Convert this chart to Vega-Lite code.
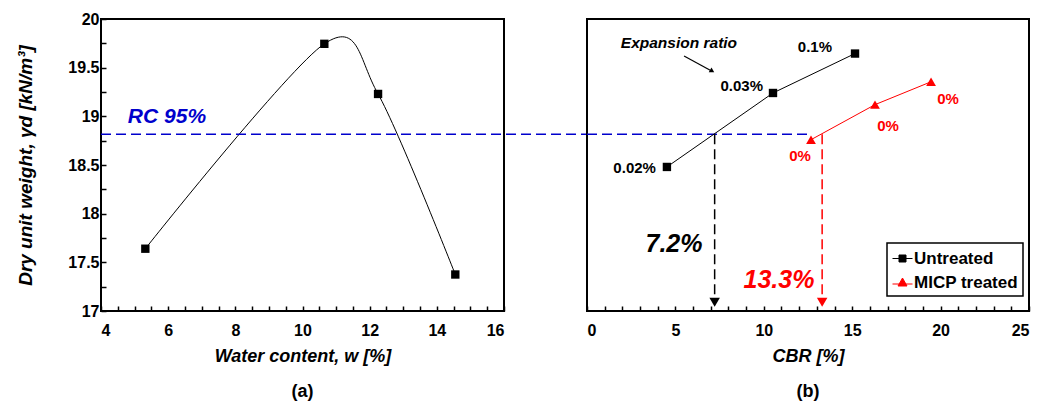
{
  "$schema": "https://vega.github.io/schema/vega-lite/v6.json",
  "padding": {"left": 15, "top": 10, "right": 5, "bottom": 5},
  "bounds": "flush",
  "spacing": 83,
  "datasets": {
    "compaction": [
      {"w": 5.32, "gd": 17.64},
      {"w": 10.65, "gd": 19.745},
      {"w": 12.25, "gd": 19.23},
      {"w": 14.55, "gd": 17.375}
    ],
    "cbr": [
      {"series": "Untreated", "cbr": 4.52, "gd": 18.48, "label": "0.02%"},
      {"series": "Untreated", "cbr": 10.52, "gd": 19.24, "label": "0.03%"},
      {"series": "Untreated", "cbr": 15.16, "gd": 19.645, "label": "0.1%"},
      {"series": "MICP treated", "cbr": 12.67, "gd": 18.76, "label": "0%"},
      {"series": "MICP treated", "cbr": 16.29, "gd": 19.12, "label": "0%"},
      {"series": "MICP treated", "cbr": 19.46, "gd": 19.355, "label": "0%"}
    ]
  },
  "config": {
    "font": "Liberation Sans",
    "view": {"stroke": "black", "strokeWidth": 2},
    "axis": {
      "domain": false,
      "grid": false,
      "tickColor": "black",
      "tickWidth": 1.5,
      "tickSize": -5,
      "labelFontSize": 16,
      "labelFontWeight": "bold",
      "labelColor": "black",
      "titleFontSize": 18,
      "titleFontWeight": "bold",
      "titleFontStyle": "italic",
      "titleColor": "black"
    },
    "title": {"fontSize": 18, "fontWeight": "bold", "color": "black", "font": "Liberation Sans"}
  },
  "hconcat": [
    {
      "width": 403,
      "height": 292,
      "title": {"text": "(a)", "orient": "bottom", "offset": 18},
      "encoding": {
        "x": {
          "field": "w", "type": "quantitative",
          "scale": {"domain": [4, 16], "nice": false, "zero": false},
          "axis": {
            "title": "Water content, w [%]",
            "values": [4,4.5,5,5.5,6,6.5,7,7.5,8,8.5,9,9.5,10,10.5,11,11.5,12,12.5,13,13.5,14,14.5,15,15.5,16],
            "format": ".1~f",
            "labelExpr": "datum.value % 2 === 0 ? datum.label : ''",
            "labelPadding": 16,
            "titlePadding": 9
          }
        },
        "y": {
          "field": "gd", "type": "quantitative",
          "scale": {"domain": [17, 20], "nice": false, "zero": false},
          "axis": {
            "title": "Dry unit weight, γd [kN/m³]",
            "titleFontSize": 19,
            "values": [17,17.25,17.5,17.75,18,18.25,18.5,18.75,19,19.25,19.5,19.75,20],
            "format": ".2~f",
            "labelExpr": "datum.value % 0.5 === 0 ? datum.label : ''",
            "labelPadding": 7,
            "titlePadding": 32
          }
        }
      },
      "layer": [
        {
          "data": {"name": "compaction"},
          "mark": {"type": "line", "interpolate": "cardinal", "tension": 0.1, "color": "black", "strokeWidth": 1}
        },
        {
          "data": {"name": "compaction"},
          "mark": {"type": "point", "shape": "square", "filled": true, "color": "black", "size": 70, "opacity": 1}
        },
        {
          "data": {"values": [{"w": 4, "w2": 18.48, "gd": 18.815}]},
          "mark": {"type": "rule", "color": "#0000CC", "strokeWidth": 1.5, "strokeDash": [10, 5]},
          "encoding": {"x2": {"field": "w2"}}
        },
        {
          "data": {"values": [{"w": 4.8, "gd": 18.99, "label": "RC 95%"}]},
          "mark": {"type": "text", "align": "left", "baseline": "middle", "fontSize": 21, "fontWeight": "bold", "fontStyle": "italic", "color": "#0000CC"},
          "encoding": {"text": {"field": "label"}}
        }
      ]
    },
    {
      "width": 442,
      "height": 292,
      "title": {"text": "(b)", "orient": "bottom", "offset": 18},
      "encoding": {
        "x": {
          "field": "cbr", "type": "quantitative",
          "scale": {"domain": [0, 25], "nice": false, "zero": false},
          "axis": {
            "title": "CBR [%]",
            "values": [0,1,2,3,4,5,6,7,8,9,10,11,12,13,14,15,16,17,18,19,20,21,22,23,24,25],
            "labelExpr": "datum.value % 5 === 0 ? datum.label : ''",
            "labelPadding": 16,
            "titlePadding": 9
          }
        },
        "y": {
          "field": "gd", "type": "quantitative",
          "scale": {"domain": [17, 20], "nice": false, "zero": false},
          "axis": null
        }
      },
      "layer": [
        {
          "data": {"values": [{"cbr": 0, "cbr2": 12.6, "gd": 18.815}]},
          "mark": {"type": "rule", "color": "#0000CC", "strokeWidth": 1.5, "strokeDash": [10, 5]},
          "encoding": {"x2": {"field": "cbr2"}}
        },
        {
          "data": {"values": [{"cbr": 7.22, "gd": 18.815, "gd2": 17.1}]},
          "mark": {"type": "rule", "color": "black", "strokeWidth": 1.5, "strokeDash": [10, 5]},
          "encoding": {"y2": {"field": "gd2"}}
        },
        {
          "data": {"values": [{"cbr": 13.3, "gd": 18.815, "gd2": 17.1}]},
          "mark": {"type": "rule", "color": "red", "strokeWidth": 1.5, "strokeDash": [10, 5]},
          "encoding": {"y2": {"field": "gd2"}}
        },
        {
          "data": {"values": [{"cbr": 7.22, "gd": 17.09}]},
          "mark": {"type": "point", "shape": "triangle-down", "filled": true, "color": "black", "size": 110, "opacity": 1}
        },
        {
          "data": {"values": [{"cbr": 13.3, "gd": 17.09}]},
          "mark": {"type": "point", "shape": "triangle-down", "filled": true, "color": "red", "size": 110, "opacity": 1}
        },
        {
          "data": {"name": "cbr"},
          "mark": {"type": "line", "strokeWidth": 1},
          "encoding": {
            "color": {
              "field": "series", "type": "nominal",
              "scale": {"domain": ["Untreated", "MICP treated"], "range": ["black", "red"]},
              "legend": {
                "title": null,
                "orient": "none",
                "legendX": 786,
                "legendY": 224,
                "strokeColor": "black",
                "fillColor": "white",
                "padding": 5,
                "labelFontSize": 17,
                "labelFontWeight": "bold",
                "labelColor": "black",
                "symbolSize": 400,
                "rowPadding": 5,
                "labelOffset": 1,
                "encode": {
                  "legend": {"update": {"strokeWidth": {"value": 1.5}}},
                  "symbols": {
                    "update": {
                      "shape": {"signal": "datum.value === 'Untreated' ? 'M-1,0H1M-0.35,-0.35H0.35V0.35H-0.35Z' : 'M-1,0.15H1M0,-0.45L0.45,0.35H-0.45Z'"},
                      "stroke": {"signal": "datum.value === 'Untreated' ? 'black' : 'red'"},
                      "fill": {"signal": "datum.value === 'Untreated' ? 'black' : 'red'"},
                      "strokeWidth": {"value": 1},
                      "opacity": {"value": 1},
                      "fillOpacity": {"value": 1},
                      "strokeOpacity": {"value": 1}
                    }
                  }
                }
              }
            },
            "detail": {"field": "series"}
          }
        },
        {
          "data": {"name": "cbr"},
          "transform": [{"filter": "datum.series === 'Untreated'"}],
          "mark": {"type": "point", "shape": "square", "filled": true, "color": "black", "size": 70, "opacity": 1}
        },
        {
          "data": {"name": "cbr"},
          "transform": [{"filter": "datum.series === 'MICP treated'"}],
          "mark": {"type": "point", "shape": "triangle-up", "filled": true, "color": "red", "size": 95, "opacity": 1}
        },
        {
          "data": {"name": "cbr"},
          "transform": [{"filter": "datum.label === '0.02%'"}],
          "mark": {"type": "text", "align": "right", "baseline": "middle", "dx": -11, "dy": 1, "fontSize": 15, "fontWeight": "bold", "color": "black"},
          "encoding": {"text": {"field": "label"}}
        },
        {
          "data": {"name": "cbr"},
          "transform": [{"filter": "datum.label === '0.03%'"}],
          "mark": {"type": "text", "align": "right", "baseline": "middle", "dx": -10, "dy": -7, "fontSize": 15, "fontWeight": "bold", "color": "black"},
          "encoding": {"text": {"field": "label"}}
        },
        {
          "data": {"name": "cbr"},
          "transform": [{"filter": "datum.label === '0.1%'"}],
          "mark": {"type": "text", "align": "right", "baseline": "middle", "dx": -23, "dy": -7, "fontSize": 15, "fontWeight": "bold", "color": "black"},
          "encoding": {"text": {"field": "label"}}
        },
        {
          "data": {"name": "cbr"},
          "transform": [{"filter": "datum.series === 'MICP treated' && datum.cbr < 14"}],
          "mark": {"type": "text", "align": "center", "baseline": "middle", "dx": -11, "dy": 16, "fontSize": 15, "fontWeight": "bold", "color": "red"},
          "encoding": {"text": {"field": "label"}}
        },
        {
          "data": {"name": "cbr"},
          "transform": [{"filter": "datum.series === 'MICP treated' && datum.cbr > 14 && datum.cbr < 18"}],
          "mark": {"type": "text", "align": "center", "baseline": "middle", "dx": 13, "dy": 21, "fontSize": 15, "fontWeight": "bold", "color": "red"},
          "encoding": {"text": {"field": "label"}}
        },
        {
          "data": {"name": "cbr"},
          "transform": [{"filter": "datum.series === 'MICP treated' && datum.cbr > 18"}],
          "mark": {"type": "text", "align": "center", "baseline": "middle", "dx": 17, "dy": 17, "fontSize": 15, "fontWeight": "bold", "color": "red"},
          "encoding": {"text": {"field": "label"}}
        },
        {
          "data": {"values": [{"cbr": 4.92, "gd": 17.69, "label": "7.2%"}]},
          "mark": {"type": "text", "align": "center", "baseline": "middle", "fontSize": 25, "fontWeight": "bold", "fontStyle": "italic", "color": "black"},
          "encoding": {"text": {"field": "label"}}
        },
        {
          "data": {"values": [{"cbr": 10.86, "gd": 17.32, "label": "13.3%"}]},
          "mark": {"type": "text", "align": "center", "baseline": "middle", "fontSize": 25, "fontWeight": "bold", "fontStyle": "italic", "color": "red"},
          "encoding": {"text": {"field": "label"}}
        },
        {
          "data": {"values": [{"cbr": 5.2, "gd": 19.75, "label": "Expansion ratio"}]},
          "mark": {"type": "text", "align": "center", "baseline": "middle", "fontSize": 15.5, "fontWeight": "bold", "fontStyle": "italic", "color": "black"},
          "encoding": {"text": {"field": "label"}}
        },
        {
          "data": {"values": [{"cbr": 5.49, "gd": 19.62, "cbr2": 7.1, "gd2": 19.46}]},
          "mark": {"type": "rule", "color": "black", "strokeWidth": 1.2},
          "encoding": {"x2": {"field": "cbr2"}, "y2": {"field": "gd2"}}
        },
        {
          "data": {"values": [{"cbr": 7.08, "gd": 19.465}]},
          "mark": {"type": "point", "shape": "triangle-up", "angle": 120, "filled": true, "color": "black", "size": 30, "opacity": 1}
        }
      ]
    }
  ]
}
